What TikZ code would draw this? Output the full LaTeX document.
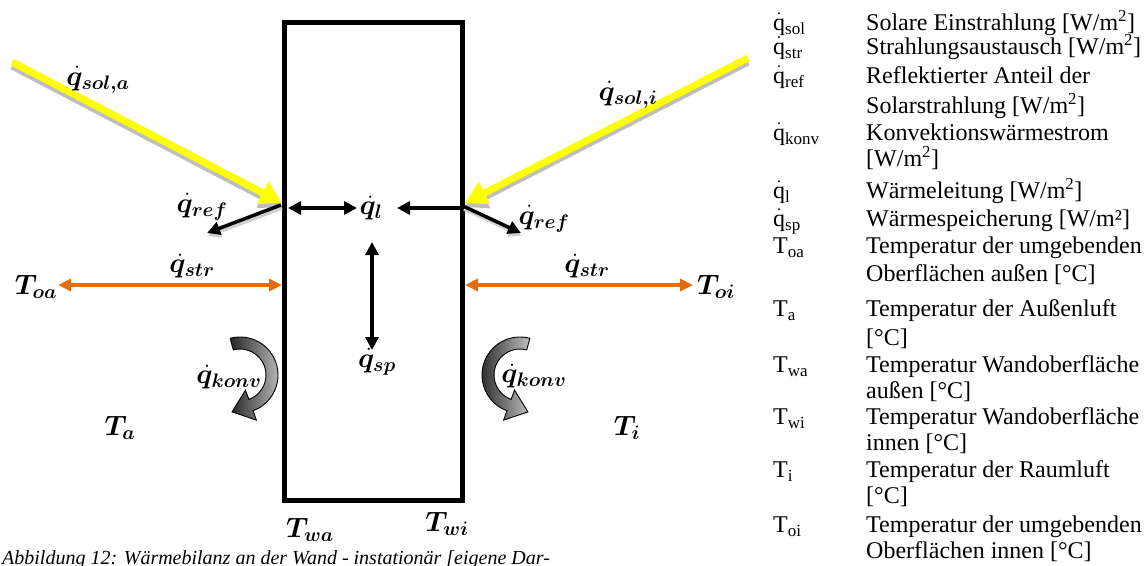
\IfFileExists{fix-cm.sty}{\RequirePackage{fix-cm}}{}
\documentclass[tikz,border=0pt]{standalone}
\usepackage{amsmath}
\usepackage{bm}
\usepackage{fontspec}
\setmainfont{Liberation Serif}
\usetikzlibrary{arrows.meta,calc}
\definecolor{sunY}{RGB}{255,255,0}
\definecolor{orng}{RGB}{228,108,10}
\definecolor{shd}{RGB}{190,190,190}
\newcommand{\lsub}[1]{\raisebox{-4.5pt}{\fontsize{17}{17}\selectfont #1}}
\newcommand{\qd}{$\dot{\mathrm{q}}$}
\tikzset{
  lbl/.style={inner sep=0pt, font=\fontsize{28}{32}\selectfont},
  lgd/.style={anchor=base west, inner sep=0pt, font=\fontsize{24}{28}\selectfont},
  sunray/.style={draw=sunY, line width=7pt, -{Triangle[length=22pt,width=24pt]}},
  sunshadow/.style={draw=shd, line width=7pt, -{Triangle[length=22pt,width=24pt]}},
  blkarrow/.style={draw=black, line width=3.5pt, -{Triangle[length=13pt,width=13pt]}},
  blkshadow/.style={draw=shd!70, line width=3.5pt, -{Triangle[length=13pt,width=13pt]}},
  blkdouble/.style={draw=black, line width=3.5pt, {Triangle[length=13pt,width=13pt]}-{Triangle[length=13pt,width=13pt]}},
  orngdouble/.style={draw=orng, line width=3.5pt, {Triangle[length=13pt,width=12pt]}-{Triangle[length=13pt,width=12pt]}},
  konv/.pic={
    \path[draw=black, line width=0.9pt, left color=black!85, right color=black!25]
      (-105:38) arc[start angle=-105, end angle=70, radius=38]
      -- (70:48) -- (-7.9,36.9) -- (70:16) -- (70:26)
      arc[start angle=70, end angle=-105, radius=26] -- cycle;
  }
}
\begin{document}
\begin{tikzpicture}[x=1pt,y=-1pt]
\useasboundingbox (0,0) rectangle (1146,565);
\fill[white] (0,0) rectangle (1146,565);

% wall
\node[draw, line width=5pt, minimum width=178pt, minimum height=477.5pt, inner sep=0pt] (wall) at (373.5,261.25) {};

% coordinates
\coordinate (solAstart) at (12,62);
\coordinate (solAend) at (282,203);
\coordinate (solIstart) at (748,58);
\coordinate (solIend) at (465,203);
\coordinate (refAstart) at (281,205);
\coordinate (refAend) at (207,233);
\coordinate (refIstart) at (463,206);
\coordinate (refIend) at (521,233);
\coordinate (qlA) at (288,208);
\coordinate (qlB) at (357,208);
\coordinate (qlC) at (397,208);
\coordinate (qlD) at (460,208);
\coordinate (spA) at (372,242);
\coordinate (spB) at (372,350);
\coordinate (strA1) at (58,285);
\coordinate (strA2) at (282,285);
\coordinate (strI1) at (465,285);
\coordinate (strI2) at (693,285);

% shadows
\draw[sunshadow] ($(solAstart)+(0,4)$) -- ($(solAend)+(0,4)$);
\draw[sunshadow] ($(solIstart)+(0,4)$) -- ($(solIend)+(0,4)$);
\draw[blkshadow] ($(refAstart)+(1,3)$) -- ($(refAend)+(1,3)$);
\draw[blkshadow] ($(refIstart)+(1,3)$) -- ($(refIend)+(1,3)$);

% solar rays
\draw[sunray] (solAstart) -- (solAend);
\draw[sunray] (solIstart) -- (solIend);

% reflected
\draw[blkarrow] (refAstart) -- (refAend);
\draw[blkarrow] (refIstart) -- (refIend);

% conduction
\draw[blkdouble] (qlA) -- (qlB);
\draw[blkarrow] (qlD) -- (qlC);
\draw[blkdouble] (spA) -- (spB);

% radiation exchange
\draw[orngdouble] (strA1) -- (strA2);
\draw[orngdouble] (strI1) -- (strI2);

% convection
\pic at (240,375) {konv};
\pic[xscale=-1] at (520,375) {konv};

% labels
\node[lbl] (LsolA) at (98,80) {$\bm{\dot{q}_{sol,a}}$};
\node[lbl] (LsolI) at (628,95) {$\bm{\dot{q}_{sol,i}}$};
\node[lbl] (LrefA) at (202,207) {$\bm{\dot{q}_{ref}}$};
\node[lbl] (LrefI) at (544,219) {$\bm{\dot{q}_{ref}}$};
\node[lbl] (Lql) at (371,208) {$\bm{\dot{q}_{l}}$};
\node[lbl] (Lsp) at (377,362) {$\bm{\dot{q}_{sp}}$};
\node[lbl] (LstrA) at (192,266) {$\bm{\dot{q}_{str}}$};
\node[lbl] (LstrI) at (587,266) {$\bm{\dot{q}_{str}}$};
\node[lbl] (LToa) at (36,287) {$\bm{T_{oa}}$};
\node[lbl] (LToi) at (716,287) {$\bm{T_{oi}}$};
\node[lbl] (LkonvA) at (229,377) {$\bm{\dot{q}_{konv}}$};
\node[lbl] (LkonvI) at (534,376) {$\bm{\dot{q}_{konv}}$};
\node[lbl] (LTa) at (120,428) {$\bm{T_{a}}$};
\node[lbl] (LTi) at (627,428) {$\bm{T_{i}}$};
\node[lbl] (LTwa) at (310,530) {$\bm{T_{wa}}$};
\node[lbl] (LTwi) at (447,524) {$\bm{T_{wi}}$};

% caption
\node[anchor=base west, inner sep=0pt, font=\fontsize{20}{24}\selectfont\itshape] (caption) at (2,564)
  {Abbildung 12: Wärmebilanz an der Wand - instationär [eigene Dar-};

% legend: symbols
\node[lgd] (s1) at (773,30) {\qd\lsub{sol}};
\node[lgd] (s2) at (773,54) {\qd\lsub{str}};
\node[lgd] (s3) at (773,83) {\qd\lsub{ref}};
\node[lgd] (s4) at (773,140) {\qd\lsub{konv}};
\node[lgd] (s5) at (773,198) {\qd\lsub{l}};
\node[lgd] (s6) at (773,226) {\qd\lsub{sp}};
\node[lgd] (s7) at (773,253) {T\lsub{oa}};
\node[lgd] (s8) at (773,316) {T\lsub{a}};
\node[lgd] (s9) at (773,372) {T\lsub{wa}};
\node[lgd] (s10) at (773,424) {T\lsub{wi}};
\node[lgd] (s11) at (773,477) {T\lsub{i}};
\node[lgd] (s12) at (773,532) {T\lsub{oi}};
% legend: texts
\node[lgd] (t1) at (866,30) {Solare Einstrahlung [W/m\textsuperscript{2}]};
\node[lgd] (t2) at (866,54) {Strahlungsaustausch [W/m\textsuperscript{2}]};
\node[lgd] (t3) at (866,83) {Reflektierter Anteil der};
\node[lgd] (t3b) at (866,113) {Solarstrahlung [W/m\textsuperscript{2}]};
\node[lgd] (t4) at (866,140) {Konvektionswärmestrom};
\node[lgd] (t4b) at (866,166) {[W/m\textsuperscript{2}]};
\node[lgd] (t5) at (866,198) {Wärmeleitung [W/m\textsuperscript{2}]};
\node[lgd] (t6) at (866,226) {Wärmespeicherung [W/m²]};
\node[lgd] (t7) at (866,253) {Temperatur der umgebenden};
\node[lgd] (t7b) at (866,281) {Oberflächen außen [°C]};
\node[lgd] (t8) at (866,316) {Temperatur der Außenluft};
\node[lgd] (t8b) at (866,345) {[°C]};
\node[lgd] (t9) at (866,372) {Temperatur Wandoberfläche};
\node[lgd] (t9b) at (866,398) {außen [°C]};
\node[lgd] (t10) at (866,424) {Temperatur Wandoberfläche};
\node[lgd] (t10b) at (866,450) {innen [°C]};
\node[lgd] (t11) at (866,477) {Temperatur der Raumluft};
\node[lgd] (t11b) at (866,503) {[°C]};
\node[lgd] (t12) at (866,532) {Temperatur der umgebenden};
\node[lgd] (t12b) at (866,558) {Oberflächen innen [°C]};
\end{tikzpicture}
\end{document}
